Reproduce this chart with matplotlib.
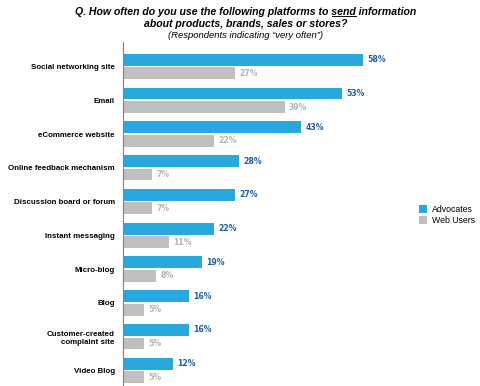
import matplotlib.pyplot as plt
import numpy as np
from matplotlib.patches import Patch
from matplotlib.lines import Line2D

categories = ['Social networking site', 'Email', 'eCommerce website',
              'Online feedback mechanism', 'Discussion board or forum',
              'Instant messaging', 'Micro-blog', 'Blog',
              'Customer-created\ncomplaint site', 'Video Blog']
advocates = [58, 53, 43, 28, 27, 22, 19, 16, 16, 12]
web_users = [27, 39, 22, 7, 7, 11, 8, 5, 5, 5]

blue = '#29a8e0'
gray = '#bfbfbf'

plt.rcParams['font.family'] = ['Liberation Sans', 'DejaVu Sans']

fig = plt.figure(figsize=(4.8, 3.86), dpi=100)
ax = fig.add_axes([123/480, 0.0, 352/480, 1 - 42/386])

y = np.arange(len(categories))
h = 0.35
ax.barh(y - 0.2, advocates, height=h, color=blue, label='Advocates')
ax.barh(y + 0.2, web_users, height=h, color=gray, label='Web Users')

for yi, a, w in zip(y, advocates, web_users):
    ax.text(a + 1, yi - 0.2, f'{a}%', va='center', ha='left', fontsize=5.6,
            fontweight='bold', color='#1f5fa6', family='DejaVu Sans')
    ax.text(w + 1, yi + 0.2, f'{w}%', va='center', ha='left', fontsize=5.6,
            fontweight='bold', color='#b3b3b3', family='DejaVu Sans')

ax.set_xlim(0, 85)
ax.set_ylim(9.46, -0.725)
ax.set_yticks(y)
ax.set_yticklabels(categories, fontsize=5.7, fontweight='bold')
ax.tick_params(axis='y', length=0, pad=6)
ax.set_xticks([])
for s in ['top', 'right', 'bottom']:
    ax.spines[s].set_visible(False)
ax.spines['left'].set_color('#808080')
ax.spines['left'].set_linewidth(0.8)

# legend
handles = [Patch(facecolor=blue, label='Advocates'),
           Patch(facecolor=gray, label='Web Users')]
fig.legend(handles=handles, loc='center left', bbox_to_anchor=(415/480, 1 - 215/386),
           frameon=False, fontsize=6.3, handlelength=0.9, handleheight=1.1,
           handletextpad=0.5, labelspacing=0.25, borderpad=0)

# title
cx = 246/480
tsize = 7.6
line1_a = 'Q. How often do you use the following platforms to '
line1_b = 'send'
line1_c = ' information'
t1 = fig.text(cx, 1 - 12/386, line1_a + line1_b + line1_c, ha='center', va='center',
              fontsize=tsize, fontweight='bold', fontstyle='italic')
fig.text(cx, 1 - 24/386, 'about products, brands, sales or stores?', ha='center',
         va='center', fontsize=tsize, fontweight='bold', fontstyle='italic')
fig.text(cx, 1 - 35/386, '(Respondents indicating \u201cvery often\u201d)', ha='center',
         va='center', fontsize=6.8, fontstyle='italic')

# underline "send"
fig.canvas.draw()
r = fig.canvas.get_renderer()
bb = t1.get_window_extent(r)
tmp = fig.text(0, 0, line1_a, fontsize=tsize, fontweight='bold', fontstyle='italic')
wa = tmp.get_window_extent(r).width
tmp.set_text(line1_a + line1_b)
wb = tmp.get_window_extent(r).width
tmp.remove()
x0 = (bb.x0 + wa) / fig.bbox.width
x1 = (bb.x0 + wb) / fig.bbox.width
yl = (bb.y0 + 1) / fig.bbox.height
fig.add_artist(Line2D([x0, x1], [yl, yl], color='black', linewidth=0.7,
                      transform=fig.transFigure))

fig.savefig('out.png', dpi=100)
